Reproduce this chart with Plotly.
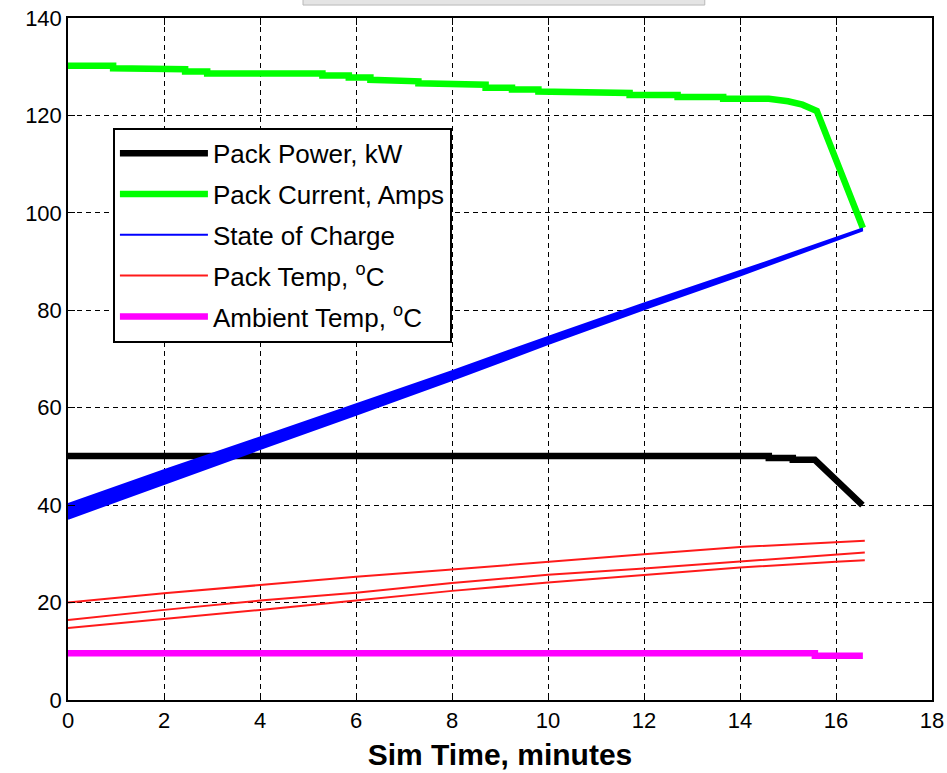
import plotly.graph_objects as go

# ---------------- data ----------------
# Pack Power, kW
power_t = [0, 14.6, 14.6, 15.1, 15.1, 15.56, 16.55]
power_v = [50.1, 50.1, 49.7, 49.7, 49.3, 49.3, 40.0]

# Pack Current, Amps (small quantised steps, then a steep drop)
current_t = [0, 0.94, 0.94, 1.96, 1.96, 2.44, 2.44, 2.9, 2.9, 5.3, 5.3, 5.85, 5.85,
             6.3, 6.3, 6.8, 6.8, 7.3, 7.3, 7.8, 7.8, 8.7, 8.7, 9.25, 9.25, 9.8, 9.8,
             10.2, 10.2, 11.7, 11.7, 12.7, 12.7, 13.65, 13.65, 14.6, 15.0, 15.3, 15.6, 16.56]
current_v = [130.2, 130.2, 129.7, 129.7, 129.5, 129.5, 129.0, 129.0, 128.6, 128.6, 128.2, 128.2,
             127.8, 127.8, 127.3, 127.3, 127.0, 127.0, 126.6, 126.6, 126.3, 126.3, 125.7, 125.7,
             125.3, 125.3, 124.9, 124.9, 124.6, 124.6, 124.2, 124.2, 123.8, 123.8, 123.4, 123.4,
             122.9, 122.2, 120.9, 96.9]

# State of Charge (spread of cells: upper / lower envelope and centre)
soc_t = [0, 2, 4, 6, 8, 10, 12, 14, 16, 16.56]
soc_hi = [40.2, 47.2, 53.9, 60.65, 67.5, 74.55, 81.4, 88.05, 94.9, 96.8]
soc_lo = [37.2, 44.4, 51.5, 58.55, 65.7, 73.05, 80.2, 87.15, 94.3, 96.4]
soc_mid = [38.7, 45.8, 52.7, 59.6, 66.6, 73.8, 80.8, 87.6, 94.6, 96.6]

# Pack Temp, degC (three sensors)
temp_t = [0, 2, 4, 6, 8, 10, 12, 14, 16, 16.6]
temp_a = [20.0, 21.9, 23.6, 25.3, 26.8, 28.4, 29.9, 31.4, 32.4, 32.7]
temp_b = [16.4, 18.5, 20.4, 22.0, 24.0, 25.7, 27.0, 28.5, 29.9, 30.3]
temp_c = [14.8, 16.6, 18.5, 20.4, 22.4, 24.1, 25.7, 27.2, 28.4, 28.7]

# Ambient Temp, degC
amb_t = [0, 15.56, 15.56, 16.56]
amb_v = [9.6, 9.6, 9.1, 9.1]

x_ticks = list(range(0, 19, 2))
y_ticks = list(range(0, 141, 20))

# ---------------- figure ----------------
fig = go.Figure()

fig.add_trace(go.Scatter(x=power_t, y=power_v, mode="lines", name="Pack Power, kW",
                         legendgroup="g1", line=dict(color="black", width=6.5)))
fig.add_trace(go.Scatter(x=current_t, y=current_v, mode="lines", name="Pack Current, Amps",
                         legendgroup="g2", line=dict(color="#00ff00", width=6.5)))
fig.add_trace(go.Scatter(x=soc_t, y=soc_hi, mode="lines", showlegend=False, legendgroup="g3",
                         line=dict(color="blue", width=2), hoverinfo="skip"))
fig.add_trace(go.Scatter(x=soc_t, y=soc_lo, mode="lines", showlegend=False, fill="tonexty",
                         legendgroup="g3", fillcolor="blue", line=dict(color="blue", width=2),
                         hoverinfo="skip"))
fig.add_trace(go.Scatter(x=soc_t, y=soc_mid, mode="lines", name="State of Charge",
                         legendgroup="g3", line=dict(color="blue", width=2)))
fig.add_trace(go.Scatter(x=temp_t, y=temp_a, mode="lines", name="Pack Temp, <sup>o</sup>C",
                         line=dict(color="#ff1a1a", width=2), legendgroup="g4"))
fig.add_trace(go.Scatter(x=temp_t, y=temp_b, mode="lines", showlegend=False,
                         line=dict(color="#ff1a1a", width=2), legendgroup="g4"))
fig.add_trace(go.Scatter(x=temp_t, y=temp_c, mode="lines", showlegend=False,
                         line=dict(color="#ff1a1a", width=2), legendgroup="g4"))
fig.add_trace(go.Scatter(x=amb_t, y=amb_v, mode="lines", name="Ambient Temp, <sup>o</sup>C",
                         legendgroup="g5", line=dict(color="magenta", width=6.5)))

tick_font = dict(family="Liberation Sans, Arial", size=22, color="black")

axis_common = dict(showline=True, linecolor="black", linewidth=1.5, mirror="ticks",
                   ticks="inside", ticklen=7, tickwidth=1.3, tickcolor="black",
                   showgrid=True, gridcolor="black", gridwidth=1, griddash="5px,4px",
                   zeroline=False, tickfont=tick_font, automargin=False)

fig.update_xaxes(range=[0, 18], tickvals=x_ticks,
                 title=dict(text="Sim Time, minutes", standoff=12,
                            font=dict(family="Liberation Sans, Arial",
                                      size=30, color="black", weight="bold")),
                 **axis_common)
fig.update_yaxes(range=[0, 140], tickvals=y_ticks, **axis_common)

# cut-off grey box at the very top of the image
fig.add_shape(type="rect", xref="paper", yref="paper", x0=0.272, x1=0.737, y0=1.019, y1=1.04,
              fillcolor="#e4e4e4", line=dict(color="#b8b8b8", width=1), layer="above")

fig.update_layout(
    width=947, height=773,
    margin=dict(l=68, r=15, t=18, b=73),
    paper_bgcolor="white", plot_bgcolor="white",
    showlegend=True,
    legend=dict(x=0.052, y=0.839, xanchor="left", yanchor="top",
                bgcolor="white", bordercolor="black", borderwidth=2,
                font=dict(family="Liberation Sans, Arial", size=26, color="black"),
                itemwidth=88, tracegroupgap=4),
)

fig.write_html("out.html")
